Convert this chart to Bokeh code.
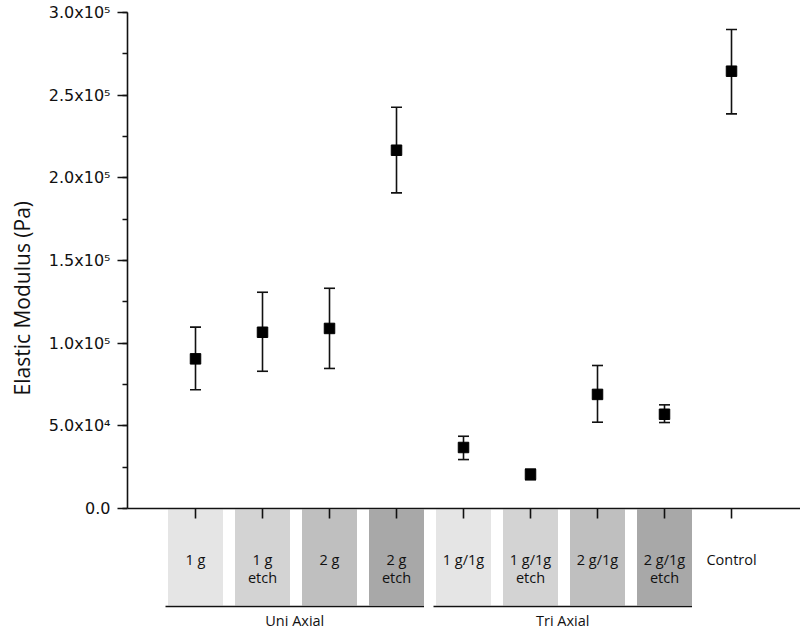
from bokeh.plotting import figure
from bokeh.models import (Range1d, LinearAxis, FixedTicker, SingleIntervalTicker,
                          ColumnDataSource, Whisker, TeeHead, Title)
from bokeh.core.properties import value
from bokeh.embed import file_html
from bokeh.resources import INLINE

# ---------------- data ----------------
line1 = ["1 g", "1 g", "2 g", "2 g", "1 g/1g", "1 g/1g", "2 g/1g", "2 g/1g", "Control"]
line2 = ["", "etch", "", "etch", "", "etch", "", "etch", ""]
groups = ["Uni Axial", "Tri Axial"]
group_members = [[0, 1, 2, 3], [4, 5, 6, 7]]
box_colors = ["#e5e5e5", "#d3d3d3", "#bfbfbf", "#a8a8a8",
              "#e5e5e5", "#d3d3d3", "#bfbfbf", "#a8a8a8"]
mean = [90500, 106600, 108900, 216700, 36900, 20600, 69000, 57000, 264500]
upper = [109700, 130800, 133200, 242700, 43700, 23800, 86500, 62700, 289700]
lower = [71800, 83000, 84700, 190900, 29600, 17400, 52200, 52000, 238700]
y_ticks = [0, 50000, 100000, 150000, 200000, 250000, 300000]
y_tick_labels = ["0.0", "5.0x10\u2074", "1.0x10\u2075", "1.5x10\u2075",
                 "2.0x10\u2075", "2.5x10\u2075", "3.0x10\u2075"]
y_title = "Elastic Modulus (Pa)"

# ---------------- layout (pixels) ----------------
W, H = 800, 631
LEFT = 127            # frame left (y axis line)
TOP = 12              # frame top (value 3e5)
Y0 = 508              # px of value 0
PX_Y = 300000 / (Y0 - TOP)   # data units per px (y)
X_UNIT = 67.0                 # px per category
X_START = -1.015
x_end = X_START + (W - LEFT) / X_UNIT
y_start = 300000 - (H - TOP) * PX_Y


def yd(py):
    return (Y0 - py) * PX_Y


xs = list(range(len(mean)))

p = figure(width=W, height=H, output_backend="svg", toolbar_location=None,
           x_range=Range1d(X_START, x_end), y_range=Range1d(y_start, 300000),
           x_axis_location=None, min_border_left=LEFT, min_border_right=0,
           min_border_top=TOP, min_border_bottom=0)
p.outline_line_color = None
p.grid.visible = False
p.background_fill_color = "white"

# y axis
ya = p.yaxis[0]
ya.bounds = (0, 300000)
ya.ticker = SingleIntervalTicker(interval=50000, num_minor_ticks=2)
ya.major_label_overrides = {t: s for t, s in zip(y_ticks, y_tick_labels)}
ya.major_label_text_font = "DejaVu Sans"
ya.major_label_text_font_size = "16px"
ya.major_label_text_color = "#111111"
ya.major_label_standoff = 7
ya.major_tick_out = 10
ya.major_tick_in = 0
ya.minor_tick_out = 5
ya.minor_tick_in = 0
ya.axis_line_width = 1.6
ya.major_tick_line_width = 1.6
ya.minor_tick_line_width = 1.6
ya.axis_line_color = "#111111"
ya.major_tick_line_color = "#111111"
ya.minor_tick_line_color = "#111111"

# y title as a left-side title, bottom-aligned with an offset
p.add_layout(Title(text=y_title, align="left", offset=236, standoff=15,
                   vertical_align="top", text_line_height=1.0,
                   text_font="Open Sans", text_font_size="21px",
                   text_font_style="normal", text_color="#111111"), "left")

# x axis at y = 0
xa = LinearAxis(fixed_location=0, ticker=FixedTicker(ticks=xs, minor_ticks=[]),
                major_tick_in=10, major_tick_out=0, minor_tick_in=0, minor_tick_out=0,
                major_label_overrides={i: "" for i in xs},
                major_label_text_font_size="1px", major_label_standoff=0,
                axis_line_width=1.6, major_tick_line_width=1.6,
                axis_line_color="#111111", major_tick_line_color="#111111")

# category boxes
BOX_W = 55 / X_UNIT
nb = len(box_colors)
p.vbar(x=xs[:nb], width=BOX_W, top=yd(509), bottom=yd(605),
       fill_color=box_colors, line_color=None, level="underlay")
p.add_layout(xa, "above")

# category texts
p.text(x=xs, y=[yd(559)] * len(xs), text=line1, text_align="center",
       text_baseline="middle", text_font=value("Open Sans"),
       text_font_size="14.5px", text_color="#111111")
p.text(x=xs, y=[yd(577)] * len(xs), text=line2, text_align="center",
       text_baseline="middle", text_font=value("Open Sans"),
       text_font_size="14.5px", text_color="#111111")

# group lines and labels
for g, members in zip(groups, group_members):
    x0 = members[0] - BOX_W / 2 - 2.5 / X_UNIT
    x1 = members[-1] + BOX_W / 2
    p.line(x=[x0, x1], y=[yd(606)] * 2, line_color="#111111", line_width=1.6)
    p.text(x=[(x0 + x1) / 2], y=[yd(620)], text=[g], text_align="center",
           text_baseline="middle", text_font=value("Open Sans"),
           text_font_size="14.5px", text_color="#111111")

# error bars and markers
src = ColumnDataSource(dict(x=xs, mean=mean, upper=upper, lower=lower))
wh = Whisker(source=src, base="x", upper="upper", lower="lower", dimension="height",
             line_color="#111111", line_width=1.6,
             upper_head=TeeHead(size=11, line_color="#111111", line_width=1.6),
             lower_head=TeeHead(size=11, line_color="#111111", line_width=1.6))
p.add_layout(wh)
p.scatter(x="x", y="mean", source=src, marker="square", size=10.5,
          fill_color="black", line_color="black")

open("out.html", "w").write(file_html(p, INLINE))
